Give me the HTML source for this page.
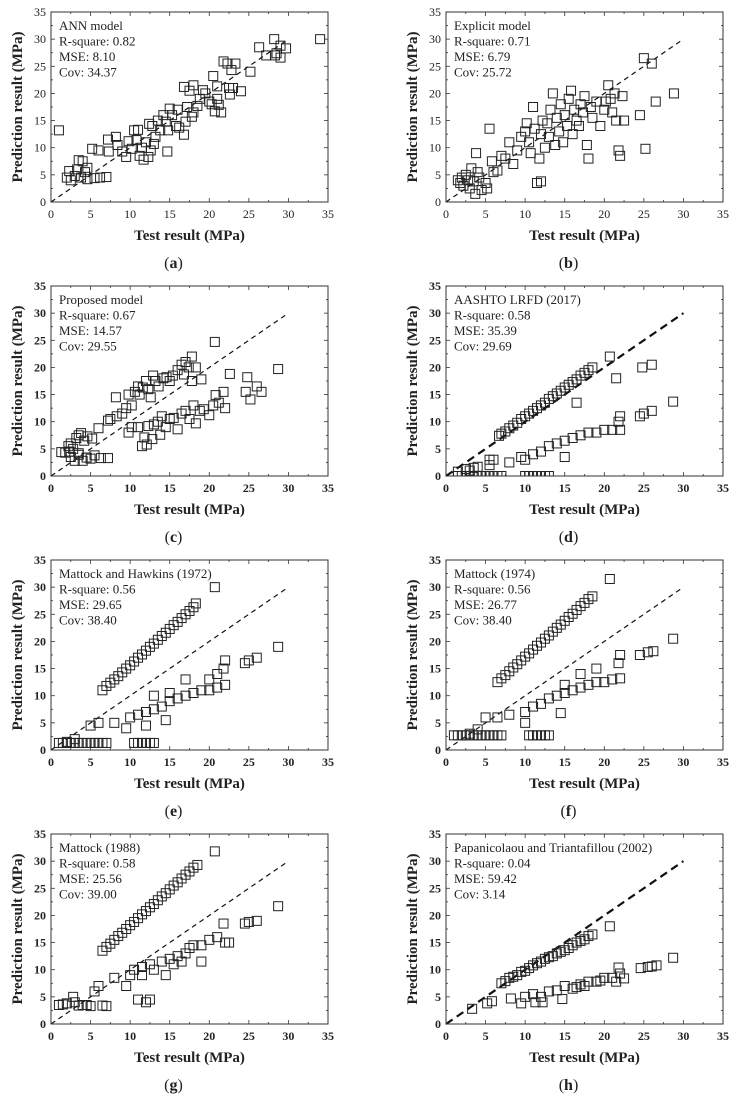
<!DOCTYPE html>
<html><head><meta charset="utf-8">
<style>
html,body{margin:0;padding:0;background:#fff;}
svg{display:block;font-family:"Liberation Serif",serif;}
</style></head>
<body>
<svg id="fig" width="743" height="1099" viewBox="0 0 743 1099"></svg>
<script>
const ticks = [0,5,10,15,20,25,30,35];
const panelLetters = ["a","b","c","d","e","f","g","h"];
const annA = ["ANN model","R-square: 0.82","MSE: 8.10","Cov: 34.37"];
const annB = ["Explicit model","R-square: 0.71","MSE: 6.79","Cov: 25.72"];
const annC = ["Proposed model","R-square: 0.67","MSE: 14.57","Cov: 29.55"];
const annD = ["AASHTO LRFD (2017)","R-square: 0.58","MSE: 35.39","Cov: 29.69"];
const annE = ["Mattock and Hawkins (1972)","R-square: 0.56","MSE: 29.65","Cov: 38.40"];
const annF = ["Mattock (1974)","R-square: 0.56","MSE: 26.77","Cov: 38.40"];
const annG = ["Mattock (1988)","R-square: 0.58","MSE: 25.56","Cov: 39.00"];
const annH = ["Papanicolaou and Triantafillou (2002)","R-square: 0.04","MSE: 59.42","Cov: 3.14"];

const aX=[1,2,2.3,2.5,3,3.3,3.5,3.8,4,4.3,4.6,4.6,5.2,5.5,6,6.2,7,7.2,7.3,8.2,8.4,9,9.5,9.8,10.2,10.5,10.8,11,11.2,11.7,11.5,12,12.3,12.4,12.6,12.8,13,13.2,13.5,13.8,14.2,14.5,14.7,14.8,15,15.3,15.8,16,16.2,16.8,16.8,17,17.2,17.5,17.8,18,18,18.5,18.8,19.2,19.5,20,20.3,20.5,20.7,21,21.2,21,21.5,21.8,22.3,22.5,22.6,22.8,23.3,23,24,25.2,26.3,27.2,28.2,28.3,28.5,29,29,29.7,34];
const aY=[13.2,4.5,5.7,4,4.8,6,7.7,4.5,7.5,5.5,6.3,4.2,9.8,4.4,9.5,4.5,4.6,11.5,9.3,12,10.5,9.3,8.3,11.2,9.8,13.2,11.4,13.3,8.5,7.8,10,11,8.3,14.4,9.5,14,10.7,12,15,13.2,16,14.8,9.3,13.2,17.2,16,14,17,13.7,21.2,12.4,14.8,17.5,20.5,15.7,21.5,16.5,17.7,19,20.6,20,18.5,18,23.2,16.7,21.3,17.9,19,16.5,25.9,25.5,21,19.8,24.3,25.5,21,20.4,24,28.5,27,30,27,27.4,26.6,28.8,28.3,30];

const bX=[1.5,1.8,2,2.2,2.5,2.8,3,3.2,3.5,3.7,3.8,4,4.2,4.5,5,5.2,5.5,5.8,6,6.5,7,7.5,8,8.5,9,9.5,10,10.2,10.5,10.7,11,11.2,11.5,11.8,12,12.2,12.5,12.8,13,13.2,13.5,13.8,14,14.3,14.5,14.8,15,15.3,15.5,15.8,16,16.2,16.5,16.8,17,17.3,17.5,17.8,18,18.3,18.5,19,19.5,20,20.2,20.5,20.8,21,21.3,21.5,21.8,22,22.3,22.5,24.5,25,25.2,26,26.5,28.8,12];
const bY=[4,3.5,4.5,3,5,4,2.5,6.2,3.8,1.5,9,5.5,4.5,2.2,3.5,2.5,13.5,7.5,5.5,5.8,8.5,8,11,7,9.5,12,13,14.5,11,9,17.5,13.5,3.5,8,12.5,15,10,14.5,12,17,20,10.5,15.5,13,18,11,16,14,19,20.5,12.5,17,15,14,18,16.5,19.5,10.5,8,17.5,15.5,18.5,14,17,18.5,21.5,19,16.5,20,15,9.5,8.5,19.5,15,16,26.5,9.8,25.5,18.5,20,3.8];

const cX=[1.3,1.8,2.2,2.5,2.8,3.2,3.5,3.8,4.2,4.6,5.2,6,7.2,7.5,8.2,8.3,9,9.5,9.8,10.2,10.6,11,11.2,11.6,12,12.3,12.6,12.9,13.2,13.6,14.2,14.6,15,15.4,16,16.5,17,17.4,17.8,18.3,17.8,19,16.8,20.7,2.5,3,3.5,4,4.5,5,5.5,6.3,7.2,2.3,3.5,9.8,10.2,11,11.5,11.8,12.1,12.3,12.8,13,13.5,13.8,14,14.5,15,15.5,16,16.5,17,17.5,18,18.3,18.8,19.3,20,20.5,20.8,21.2,21.8,22,22.6,24.6,24.8,25.2,26,26.6,28.7];
const cY=[4.4,4.3,5.5,6,5,7,7.5,7.9,6.5,7.3,6.9,8.8,10.2,10.5,14.5,11,11.5,12.5,15,13,15.5,16.5,15,16.3,17.5,16,14.5,18.5,17.5,16.5,18,18.2,17.5,18.5,19.5,20.5,21,20,22,20,17.5,17.8,18.7,24.7,3.5,2.8,3.9,2.8,3.4,3.2,3.8,3.3,3.3,4.5,4.2,8,9,9,5.5,7.1,5.8,9.2,6.8,9.5,10,7.6,11,9,10.5,10.7,8.6,11.5,12,10.5,13,9.7,12,12.3,11.2,13,14.9,13.5,15.5,12.5,18.8,15.5,18.2,14.1,16.5,15.5,19.7];

const dX=[7,7.5,8,8.5,9,9.5,10,10.5,11,11.5,12,12.5,13,13.5,14,14.5,15,15.5,16,16.5,17,17.5,18,18.5,20.7,6.7,10,11,12,13,14,15,16,17,18,19,20,21,22,22,21.8,24.5,25,26,28.7,24.8,26,21.5,15,16.5,8,9.5,5.5,6,1.5,2,2.5,3,3.5,4,4.5,5,5.5,6,6.5,7,10,10.5,11,11.5,12,12.5,13,1.5,2.5,3.5,4,3,5.5];
const dY=[7.8,8.2,8.8,9.3,9.8,10.5,11,11.5,12,12.5,13,13.5,14.2,14.7,15.2,15.7,16.3,16.8,17.3,17.8,18.5,19,19.5,20,22,7.4,3,4,4.5,5.5,6,6.5,7,7.5,8,8,8.5,8.5,8.5,11,10,11,11.5,12,13.7,20,20.5,18,3.5,13.5,2.5,3.5,3,3,0,0,0,0,0,0,0,0,0,0,0,0,0,0,0,0,0,0,0,0.8,1.3,1.5,1.7,1,2];

const eX=[6.5,7,7.5,8,8.5,9,9.5,10,10.5,11,11.5,12,12.5,13,13.5,14,14.5,15,15.5,16,16.5,17,17.5,18,18.3,20.7,5,6,8,9.5,10,11,12,13,14,15,16,17,18,19,20,21,22,21,21.8,22,24.5,25,26,28.7,14.5,13,15,17,20,12,3,2,1,1.5,2,2.5,3,3.5,4,4.5,5,5.5,6,6.5,7,10.5,11,11.5,12,12.5,13];
const eY=[11,11.8,12.4,13,13.6,14.3,15,15.6,16.3,17,17.6,18.3,19,19.6,20.3,21,21.6,22.3,23,23.6,24.3,25,25.6,26.3,27,30,4.5,5,5,4,6,6.5,7,7.5,8,9,9.5,10,10.5,11,11,11.5,12,14,15,16.5,16,16.5,17,19,5.5,10,10.5,13,13,4.5,2,1.5,1.3,1.3,1.3,1.3,1.3,1.3,1.3,1.3,1.3,1.3,1.3,1.3,1.3,1.3,1.3,1.3,1.3,1.3,1.3];

const fX=[6.5,7,7.5,8,8.5,9,9.5,10,10.5,11,11.5,12,12.5,13,13.5,14,14.5,15,15.5,16,16.5,17,17.5,18,18.5,20.7,5,6.5,8,10,11,12,13,14,15,16,17,18,19,20,21,22,21.8,22,24.5,25.5,26.2,28.7,14.5,15,17,19,3,4,10,1,1.5,2,2.5,3,3.5,4,4.5,5,5.5,6,6.5,7,10.5,11,11.5,12,12.5,13];
const fY=[12.5,13.2,13.8,14.5,15.2,15.8,16.5,17.2,17.8,18.5,19.2,19.8,20.5,21.1,21.8,22.5,23.1,23.8,24.5,25.1,25.8,26.5,27.1,27.8,28.3,31.5,6,6,6.5,7,8,8.5,9.5,10,10.5,11,11.5,12,12.5,12.5,13,13.2,16,17.5,17.5,18,18.2,20.5,6.8,12,14,15,3,3.8,5,2.7,2.7,2.7,2.7,2.7,2.7,2.7,2.7,2.7,2.7,2.7,2.7,2.7,2.7,2.7,2.7,2.7,2.7,2.7];

const gX=[6.5,7,7.5,8,8.5,9,9.5,10,10.5,11,11.5,12,12.5,13,13.5,14,14.5,15,15.5,16,16.5,17,17.5,18,18.5,20.7,1,2,3,2.8,4,5,5.5,6,7,8,9.5,10,10.5,11,11.5,12,12.5,11.5,12.5,13,14,14.5,15,16,17,17.5,18,19,20,21,21.8,22,22.5,24.5,25,26,28.7,15.5,16.5,19,1.5,3.5,4.5,6.5];
const gY=[13.5,14.2,14.8,15.5,16.2,16.8,17.5,18.2,18.8,19.5,20.2,20.8,21.5,22.1,22.8,23.5,24.1,24.8,25.5,26.1,26.8,27.5,28.1,28.8,29.3,31.8,3.5,3.8,4,5,3.5,3.3,6,7,3.3,8.5,7,9,10,4.5,9,4,4.5,10.5,11,10,11.5,9,12,12.5,13,14,14.5,14.5,15.5,16,18.5,15,15,18.5,18.8,19,21.7,11,11.5,11.5,3.6,3.4,3.5,3.4];

const hX=[3.3,5.2,5.8,7,7.5,8,8.5,9,9.5,10,10.5,11,11.5,12,12.5,13,13.5,14,14.5,15,15.5,16,16.5,17,17.5,18,18.5,20.7,8.2,9.5,10,11,11.3,12,12.2,13,14,14.7,15,16,17,18,19,20,21,21.8,22,22.5,21.5,24.6,25.5,26,26.6,28.7,16.5,17.5,19.5];
const hY=[2.8,3.8,4.2,7.5,7.9,8.5,8.7,9,9.6,9.8,10.3,10.8,11.2,11.5,12,12.3,12.5,13,13.3,13.6,14,14.5,15,15.3,15.6,16.2,16.5,18,4.7,3.8,5,5.5,4,5,4,6,6.2,4.6,7,6.5,7.3,7.8,7.8,8.5,8.5,10.4,9.3,8.4,7.8,10.3,10.5,10.6,10.8,12.2,6.8,7,8];

const svg=document.getElementById('fig');
const NS='http://www.w3.org/2000/svg';
function mk(tag,attrs,parent){const e=document.createElementNS(NS,tag);for(const k in attrs)e.setAttribute(k,attrs[k]);parent.appendChild(e);return e;}

const panels=[
 {xs:aX,ys:aY,ann:annA,col:0,row:0,boldTicks:false,thick:false},
 {xs:bX,ys:bY,ann:annB,col:1,row:0,boldTicks:false,thick:false},
 {xs:cX,ys:cY,ann:annC,col:0,row:1,boldTicks:true,thick:false},
 {xs:dX,ys:dY,ann:annD,col:1,row:1,boldTicks:true,thick:true},
 {xs:eX,ys:eY,ann:annE,col:0,row:2,boldTicks:true,thick:false},
 {xs:fX,ys:fY,ann:annF,col:1,row:2,boldTicks:true,thick:false},
 {xs:gX,ys:gY,ann:annG,col:0,row:3,boldTicks:true,thick:false},
 {xs:hX,ys:hY,ann:annH,col:1,row:3,boldTicks:true,thick:true}
];
const rowY0=[202,476,750,1024];
const colX0=[51,446];
const W=277,H=190;

panels.forEach((p,i)=>{
  const x0=colX0[p.col], y0=rowY0[p.row];
  const sx=v=>x0+v/35*W, sy=v=>y0-v/35*H;
  const g=mk('g',{},svg);
  
  
  const cp=mk('clipPath',{id:'cp'+i},g);
  mk('rect',{x:x0,y:y0-H,width:W,height:H},cp);
  for(let v=0;v<=35;v+=2.5){
    const major=v%5===0, L=major?4:2;
    mk('line',{x1:sx(v),x2:sx(v),y1:y0,y2:y0-L,stroke:'#333','stroke-width':0.8},g);
    mk('line',{x1:sx(v),x2:sx(v),y1:y0-H,y2:y0-H+L,stroke:'#333','stroke-width':0.8},g);
    mk('line',{x1:x0,x2:x0+L,y1:sy(v),y2:sy(v),stroke:'#333','stroke-width':0.8},g);
    mk('line',{x1:x0+W,x2:x0+W-L,y1:sy(v),y2:sy(v),stroke:'#333','stroke-width':0.8},g);
  }
  const fw=p.boldTicks?'bold':'normal';
  const xt=mk('g',{},g);
  
  
  const yt=mk('g',{},g);
  
  
  ticks.forEach(t=>{
    const a=mk('text',{x:sx(t),y:y0+16,'text-anchor':'middle','font-size':12,'font-weight':fw,fill:'#222'},xt);a.textContent=t;
    const b=mk('text',{x:x0-5,y:sy(t)+4,'text-anchor':'end','font-size':12,'font-weight':fw,fill:'#222'},yt);b.textContent=t;
  });
  const dl=mk('line',{x1:sx(0),y1:sy(0),x2:sx(30),y2:sy(30),stroke:'#111','stroke-width':p.thick?2.2:1.2,'stroke-dasharray':p.thick?'8,5':'5,4'},g);
  
  
  const pts=mk('g',{'clip-path':'url(#cp'+i+')'},g);
  
  
  p.xs.forEach((xv,j)=>{
    const r=mk('rect',{x:sx(xv)-4.5,y:sy(p.ys[j])-4.5,width:9,height:9,fill:'none',stroke:'#222','stroke-width':1},pts);
    
    
  });
  const fr=mk('rect',{x:x0,y:y0-H,width:W,height:H,fill:'none',stroke:'#333','stroke-width':1},g);
  
  
  p.ann.forEach((s,k)=>{
    const t=mk('text',{x:x0+8,y:y0-H+18+k*15.5,'font-size':13,fill:'#222'},g);
    t.textContent=s;
    
    
  });
  const xtl=mk('text',{x:x0+W/2,y:y0+38,'text-anchor':'middle','font-size':15,'font-weight':'bold',fill:'#222'},g);
  xtl.textContent='Test result (MPa)';
  
  
  const ycx=x0-29, ycy=y0-H/2;
  const ytl=mk('text',{x:ycx,y:ycy,'text-anchor':'middle','font-size':15,'font-weight':'bold',fill:'#222',transform:'rotate(-90 '+ycx+' '+ycy+')'},g);
  ytl.textContent='Prediction result (MPa)';
  
  
  const pl=mk('text',{x:x0+W/2-16,y:y0+66,'text-anchor':'middle','font-size':16,fill:'#222'},g);
  pl.innerHTML='(<tspan font-weight="bold">'+panelLetters[i]+'</tspan>)';
  
  
});
</script>
</body></html>
